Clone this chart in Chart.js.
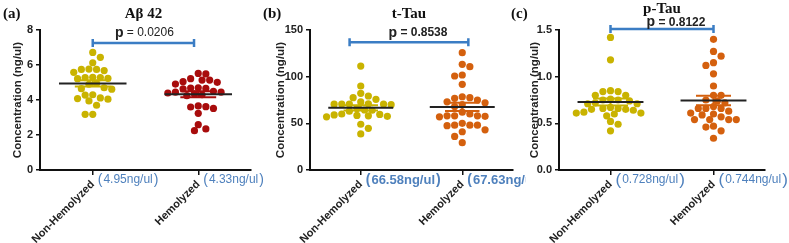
<!DOCTYPE html>
<html>
<head>
<meta charset="utf-8">
<script src="https://cdn.jsdelivr.net/npm/chart.js@4"></script>
<style>
  body { margin: 0; background: #fff; width: 789px; height: 243px; overflow: hidden; position: relative; }
  canvas { position: absolute; top: 0; }
  .tag { position: absolute; top: 5px; font: bold 15px "Liberation Serif", serif; color: #111; z-index: 2; }
</style>
</head>
<body>
<canvas id="ab" width="263" height="243" style="left:0"></canvas>
<canvas id="tt" width="263" height="243" style="left:263px"></canvas>
<canvas id="pt" width="263" height="243" style="left:526px"></canvas>
<div class="tag" style="left:3px">(a)</div>
<div class="tag" style="left:263px">(b)</div>
<div class="tag" style="left:511px">(c)</div>
<script>
const groups = ['Non-Hemolyzed', 'Hemolyzed'];
const titles = ['Aβ 42', 't-Tau', 'p-Tau'];
const pValues = ['0.0206', '0.8538', '0.8122'];

// Aβ 42 (ng/ul)
const abNon = [6.72, 6.44, 6.13, 5.77, 5.75, 5.75, 5.68, 5.58, 5.30, 5.28, 5.28, 5.24, 5.22, 4.95,
  4.90, 4.70, 4.65, 4.62, 4.30, 4.28, 4.12, 4.08, 4.05, 3.95, 3.70, 3.18, 3.18];
const abHem = [5.52, 5.49, 5.22, 5.14, 5.14, 5.05, 5.01, 4.91, 4.70, 4.68, 4.66, 4.64, 4.50, 4.45,
  4.45, 4.40, 4.35, 4.30, 4.25, 3.66, 3.62, 3.60, 3.52, 3.24, 2.59, 2.35, 2.25];
const abMeans = [4.95, 4.33];
const abTicks = [0, 2, 4, 6, 8];

// t-Tau
const ttNon = [111.4, 90, 82.2, 79.3, 77.5, 75.7, 72.9, 71, 70.7, 70.5, 70.5, 70.7, 70, 66, 64.3,
  64, 63, 60, 59.5, 59, 58.5, 58, 57.5, 57, 49, 44.6, 38.6];
const ttHem = [125.7, 113.2, 110.7, 101.8, 100.7, 91.8, 78.5, 77.5, 76.8, 75, 73, 72, 70, 68, 62,
  60, 58, 58, 57.5, 58, 57, 48, 48, 47.5, 48, 50, 43, 41, 36, 29.3];
const ttMeans = [66.58, 67.63];
const ttTicks = [0, 50, 100, 150];

// p-Tau
const ptNon = [1.42, 1.18, 0.85, 0.84, 0.84, 0.80, 0.80, 0.76, 0.75, 0.75, 0.74, 0.72, 0.71, 0.71,
  0.67, 0.66, 0.66, 0.65, 0.65, 0.64, 0.62, 0.61, 0.61, 0.60, 0.58, 0.52, 0.49, 0.42];
const ptHem = [1.40, 1.27, 1.22, 1.15, 1.12, 1.03, 0.90, 0.80, 0.80, 0.75, 0.74, 0.72, 0.68, 0.66,
  0.66, 0.66, 0.63, 0.61, 0.60, 0.59, 0.57, 0.54, 0.54, 0.54, 0.54, 0.47, 0.46, 0.42, 0.34];
const ptMeans = [0.728, 0.744];
const ptTicks = [0, 0.5, 1, 1.5];

const yellow = '#c9b300';
const darkRed = '#a80c0c';
const orange = '#d4600e';
const blue = '#4f81bd';
const ink = '#222';
const SANS = '"Liberation Sans", Arial, sans-serif';

function sem(arr) {
  const m = arr.reduce((a, b) => a + b, 0) / arr.length;
  const v = arr.reduce((a, b) => a + (b - m) * (b - m), 0) / (arr.length - 1);
  return Math.sqrt(v / arr.length);
}

function errorBar(c, m, s, w) {
  return [
    { x: c - w, y: m + s }, { x: c + w, y: m + s }, { x: c, y: null },
    { x: c - w, y: m - s }, { x: c + w, y: m - s }, { x: c, y: null },
    { x: c, y: m - s }, { x: c, y: m + s }
  ];
}

// beeswarm: spread dots sideways so they don't overlap (uses the chart's own scales)
function swarm(chart, dsIndex, center) {
  const { x, y } = chart.scales;
  const c = x.getPixelForValue(center);
  const D = 7.6;
  const pts = chart.data.datasets[dsIndex].data;
  const order = pts.map((p, i) => i).sort((a, b) => pts[b].y - pts[a].y);
  const placed = [];
  let right = 0, left = 0;
  order.forEach(i => {
    const py = y.getPixelForValue(pts[i].y);
    for (let k = 0; k < 40; k++) {
      let cands = [0];
      if (k > 0) cands = right <= left ? [k, -k] : [-k, k];
      let found = null;
      for (const kk of cands) {
        const off = kk * D / 2;
        const hit = placed.some(q => Math.hypot(q.dx - off, q.py - py) < D - 0.9);
        if (!hit) { found = off; break; }
      }
      if (found !== null) {
        placed.push({ dx: found, py });
        if (found > 0) right++;
        if (found < 0) left++;
        pts[i].x = x.getValueForPixel(c + found);
        break;
      }
    }
  });
}

const overlay = {
  id: 'overlay',
  afterDraw(chart, args, o) {
    const { ctx, scales: { x, y } } = chart;
    ctx.save();
    const x1 = x.getPixelForValue(o.bracketX[0]);
    const x2 = x.getPixelForValue(o.bracketX[1]);
    const cx = (x1 + x2) / 2;
    const yb = y.getPixelForValue(o.bracketY);

    ctx.fillStyle = '#111';
    ctx.textAlign = 'center';
    ctx.textBaseline = 'middle';
    ctx.font = 'bold 15px "Liberation Serif", serif';
    ctx.fillText(o.title, cx, o.titleY);

    ctx.strokeStyle = '#3b7dc4';
    ctx.lineWidth = 2.5;
    ctx.beginPath();
    ctx.moveTo(x1, yb); ctx.lineTo(x2, yb);
    ctx.moveTo(x1, yb - 4); ctx.lineTo(x1, yb + 4);
    ctx.moveTo(x2, yb - 4); ctx.lineTo(x2, yb + 4);
    ctx.stroke();

    ctx.fillStyle = ink;
    ctx.textAlign = 'left';
    ctx.font = 'bold 14px ' + SANS;
    const w1 = ctx.measureText('p').width;
    const rest = ' = ' + o.p;
    ctx.font = o.pFont;
    const w2 = ctx.measureText(rest).width;
    const sx = cx + o.pDx - (w1 + w2) / 2;
    ctx.font = 'bold 14px ' + SANS;
    ctx.fillText('p', sx, o.pY);
    ctx.font = o.pFont;
    ctx.fillText(rest, sx + w1, o.pY);

    ctx.fillStyle = blue;
    o.means.forEach((m, i) => {
      let px = x.getPixelForValue(i + 1) + 5;
      const inner = m + 'ng/ul';
      ctx.font = o.parenFont;
      ctx.fillText('(', px, 180);
      px += ctx.measureText('(').width + 1;
      ctx.font = o.meanFont;
      ctx.fillText(inner, px, 180);
      px += ctx.measureText(inner).width + 1;
      ctx.font = o.parenFont;
      ctx.fillText(')', px, 180);
    });
    ctx.restore();
  }
};

function makePanel(id, non, hem, means, yTicks, fmt, colors, cfg) {
  const pts = [non, hem].map((vals, g) => ({
    data: vals.map(v => ({ x: g + 1, y: v })),
    backgroundColor: colors[g],
    borderColor: colors[g],
    borderWidth: 0,
    pointRadius: 3.6,
    order: 2
  }));
  const sems = [non, hem].map((vals, g) => ({
    data: errorBar(g + 1, means[g], sem(vals), 0.17),
    showLine: true,
    spanGaps: false,
    borderColor: colors[g],
    borderWidth: 2,
    pointRadius: 0,
    order: 1
  }));
  const meanLine = {
    data: [
      { x: 0.68, y: means[0] }, { x: 1.32, y: means[0] }, { x: 1.5, y: null },
      { x: 1.68, y: means[1] }, { x: 2.32, y: means[1] }
    ],
    showLine: true,
    spanGaps: false,
    borderColor: ink,
    borderWidth: 2,
    pointRadius: 0,
    order: 0
  };

  const chart = new Chart(document.getElementById(id), {
    type: 'scatter',
    data: { datasets: [...pts, ...sems, meanLine] },
    options: {
      responsive: false,
      animation: false,
      layout: { padding: { top: 30, right: cfg.padRight, bottom: 0, left: 0 } },
      plugins: {
        legend: { display: false },
        tooltip: { enabled: false },
        overlay: cfg.overlay
      },
      scales: {
        x: {
          type: 'linear',
          min: 0.5,
          max: 2.5,
          afterBuildTicks: axis => { axis.ticks = [{ value: 1 }, { value: 2 }]; },
          afterFit: axis => { axis.height = 73; },
          ticks: {
            autoSkip: false,
            minRotation: 45,
            maxRotation: 45,
            color: ink,
            font: { family: SANS, size: 11, weight: 'bold' },
            callback: v => groups[v - 1]
          },
          grid: { drawOnChartArea: false, tickLength: 5, color: '#111', lineWidth: 1.5 },
          border: { color: '#111', width: 2 }
        },
        y: {
          min: yTicks[0],
          max: yTicks[yTicks.length - 1],
          afterBuildTicks: axis => { axis.ticks = yTicks.map(v => ({ value: v })); },
          afterFit: axis => { axis.width = cfg.yWidth; },
          ticks: {
            color: ink,
            padding: 3,
            font: { family: SANS, size: 11, weight: 'bold' },
            callback: fmt
          },
          title: {
            display: true,
            text: 'Concentration (ng/ul)',
            color: ink,
            font: { family: SANS, size: 11.5, weight: 'bold' },
            padding: { top: cfg.titlePad, bottom: 0 }
          },
          grid: { drawOnChartArea: false, tickLength: 4, color: '#111', lineWidth: 1.5 },
          border: { color: '#111', width: 2 }
        }
      }
    },
    plugins: [overlay]
  });

  swarm(chart, 0, 1);
  swarm(chart, 1, 2);
  chart.update('none');
  return chart;
}

makePanel('ab', abNon, abHem, abMeans, abTicks, v => String(v), [yellow, darkRed], {
  padRight: 12, yWidth: 40, titlePad: 11,
  overlay: {
    title: titles[0], p: pValues[0], means: abMeans,
    bracketX: [1, 1.96], bracketY: 7.26, titleY: 14, pY: 33, pDx: 1,
    pFont: '12px ' + SANS, meanFont: '12px ' + SANS, parenFont: '14px ' + SANS
  }
});

makePanel('tt', ttNon, ttHem, ttMeans, ttTicks, v => String(v), [yellow, orange], {
  padRight: 13, yWidth: 47, titlePad: 11,
  overlay: {
    title: titles[1], p: pValues[1], means: ttMeans,
    bracketX: [0.89, 2.06], bracketY: 137, titleY: 14, pY: 33, pDx: 9,
    pFont: 'bold 12px ' + SANS, meanFont: 'bold 13px ' + SANS, parenFont: 'bold 14px ' + SANS
  }
});

makePanel('pt', ptNon, ptHem, ptMeans, ptTicks, v => v.toFixed(1), [yellow, orange], {
  padRight: 24, yWidth: 33, titlePad: 1.5,
  overlay: {
    title: titles[2], p: pValues[2], means: ptMeans,
    bracketX: [1, 2], bracketY: 1.51, titleY: 9, pY: 22.5, pDx: 14,
    pFont: 'bold 12px ' + SANS, meanFont: '12px ' + SANS, parenFont: '17px ' + SANS
  }
});
</script>
</body>
</html>
